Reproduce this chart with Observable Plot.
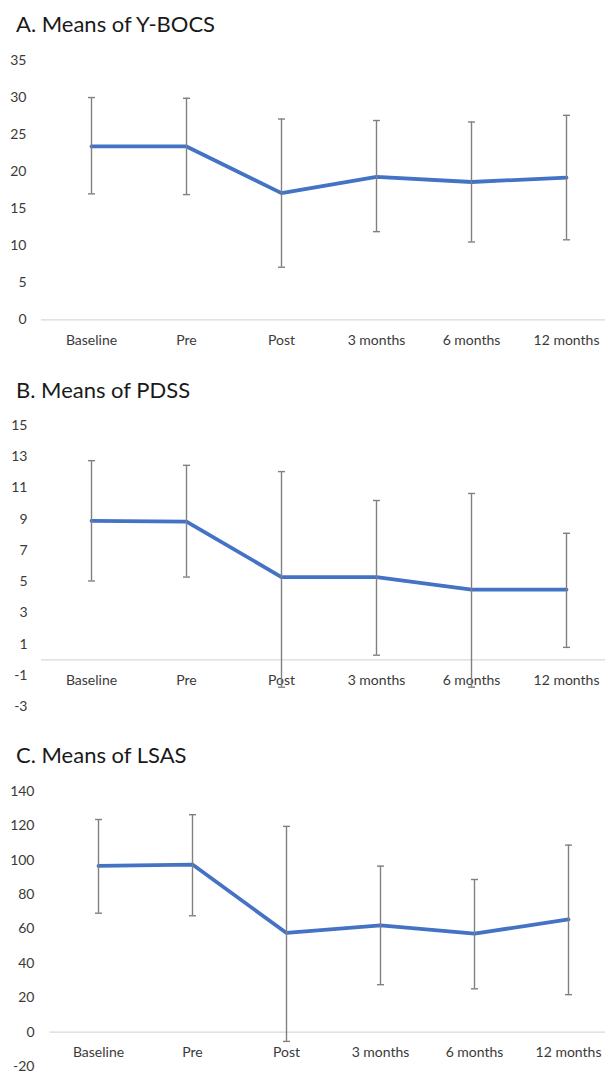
<!DOCTYPE html>
<html>
<head>
<meta charset="utf-8">
<script src="https://cdn.jsdelivr.net/npm/d3@7"></script>
<script src="https://cdn.jsdelivr.net/npm/@observablehq/plot@0.6"></script>
<style>
  html, body { margin: 0; padding: 0; background: #fff; }
  #root { position: relative; width: 605px; height: 1073px; overflow: hidden; font-family: Lato, "Open Sans", sans-serif; }
  .title { position: absolute; left: 16px; font-size: 22px; line-height: 22px; color: #1a1a1a; white-space: nowrap; }
  .panel { position: absolute; left: 0; }
</style>
</head>
<body>
<div id="root"></div>
<script>
const categories = ["Baseline", "Pre", "Post", "3 months", "6 months", "12 months"];

const ybocsMean = [23.4, 23.4, 17.1, 19.3, 18.6, 19.2];
const ybocsLow  = [17.0, 16.9, 7.1, 11.9, 10.5, 10.8];
const ybocsHigh = [30.0, 29.9, 27.1, 26.9, 26.7, 27.6];
const ybocsTicks = [0, 5, 10, 15, 20, 25, 30, 35];

const pdssMean = [8.9, 8.85, 5.3, 5.3, 4.5, 4.5];
const pdssLow  = [5.05, 5.3, -1.75, 0.3, -1.75, 0.8];
const pdssHigh = [12.75, 12.45, 12.05, 10.2, 10.65, 8.1];
const pdssTicks = [-3, -1, 1, 3, 5, 7, 9, 11, 13, 15];

const lsasMean = [96.7, 97.5, 57.7, 62.1, 57.3, 65.6];
const lsasLow  = [69.2, 67.7, -5.4, 27.6, 25.2, 21.8];
const lsasHigh = [123.7, 126.5, 119.7, 96.6, 88.8, 108.8];
const lsasTicks = [-20, 0, 20, 40, 60, 80, 100, 120, 140];

const titles = ["A. Means of Y-BOCS", "B. Means of PDSS", "C. Means of LSAS"];

const capSymbol = {
  draw(ctx, size) {
    const r = Math.sqrt(size / Math.PI);
    ctx.moveTo(-r, 0);
    ctx.lineTo(r, 0);
  }
};

function panel(o) {
  const rows = categories.map((c, i) => ({cat: c, mean: o.mean[i], low: o.low[i], high: o.high[i]}));
  return Plot.plot({
    width: 605,
    height: o.height,
    marginLeft: o.marginLeft,
    marginRight: 0,
    marginTop: 0,
    marginBottom: o.marginBottom,
    style: {fontFamily: "Lato, 'Open Sans', sans-serif", fontSize: "14px", color: "#3a3a3a", background: "transparent", overflow: "visible"},
    x: {type: "point", domain: categories, range: o.xRange, padding: 0.5, label: null, tickSize: 0, tickPadding: 15},
    y: {domain: o.domain, range: o.yRange, ticks: o.ticks, tickSize: 0, tickPadding: o.tickPadding, label: null, tickFormat: d => String(d)},
    marks: [
      Plot.ruleY([0], {stroke: "#d9d9d9", strokeWidth: 1.3}),
      Plot.line(rows, {x: "cat", y: "mean", stroke: "#4472C4", strokeWidth: 3.8, strokeLinejoin: "round"}),
      Plot.ruleX(rows, {x: "cat", y1: "low", y2: "high", stroke: "#808080", strokeWidth: 1.4}),
      Plot.dot(rows, {x: "cat", y: "low", symbol: capSymbol, r: 3.5, stroke: "#808080", strokeWidth: 1.4, fill: "none"}),
      Plot.dot(rows, {x: "cat", y: "high", symbol: capSymbol, r: 3.5, stroke: "#808080", strokeWidth: 1.4, fill: "none"})
    ]
  });
}

const root = document.getElementById("root");
const configs = [
  {titleTop: 12.5, top: 40, height: 315, mean: ybocsMean, low: ybocsLow, high: ybocsHigh, ticks: ybocsTicks,
   domain: [0, 35], yRange: [279.3, 20], xRange: [41, 615], marginLeft: 41, marginBottom: 35.7, tickPadding: 15},
  {titleTop: 378.5, top: 405, height: 310, mean: pdssMean, low: pdssLow, high: pdssHigh, ticks: pdssTicks,
   domain: [-3, 15], yRange: [301.25, 20], xRange: [41, 615], marginLeft: 41, marginBottom: 55.6, tickPadding: 14},
  {titleTop: 743.5, top: 770, height: 303, mean: lsasMean, low: lsasLow, high: lsasHigh, ticks: lsasTicks,
   domain: [-20, 140], yRange: [296, 21], xRange: [49.5, 616], marginLeft: 49.5, marginBottom: 41.3, tickPadding: 15.5}
];

configs.forEach((c, i) => {
  const t = document.createElement("div");
  t.className = "title";
  t.style.top = c.titleTop + "px";
  t.textContent = titles[i];
  root.appendChild(t);
  const p = document.createElement("div");
  p.className = "panel";
  p.style.top = c.top + "px";
  p.appendChild(panel(c));
  root.appendChild(p);
});
</script>
</body>
</html>
